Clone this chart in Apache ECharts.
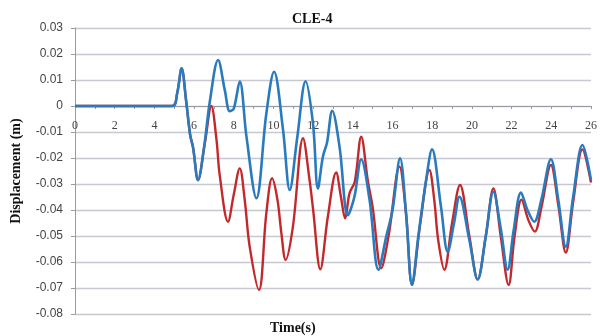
<!DOCTYPE html>
<html>
<head>
<meta charset="utf-8">
<script src="https://cdn.jsdelivr.net/npm/echarts@6/dist/echarts.min.js"></script>
<style>
  html, body { margin: 0; padding: 0; background: #fff; }
  #chart { width: 600px; height: 336px; }
</style>
</head>
<body>
<div id="chart"></div>
<script>
// blue curve
const blueT = [0, 4.9, 5.15, 5.37, 5.6, 5.8, 5.95, 6.2, 6.5, 6.8, 7.21, 7.55, 7.8, 8.0, 8.3, 8.64, 9.14, 9.64, 10.03, 10.48, 10.82, 11.2, 11.62, 11.99, 12.24, 12.49, 12.7, 12.96, 13.33, 13.75, 14.08, 14.42, 14.84, 15.29, 15.68, 16.0, 16.38, 16.68, 16.98, 17.3, 17.69, 17.99, 18.44, 18.78, 19.1, 19.37, 19.87, 20.29, 20.7, 21.08, 21.45, 21.8, 22.1, 22.47, 22.8, 23.14, 23.5, 23.98, 24.35, 24.73, 25.1, 25.57, 26.0]
const blueV = [0, 0, 0.005, 0.0145, 0.002, -0.011, -0.016, -0.0285, -0.016, 0.002, 0.0177, 0.006, -0.002, -0.001, 0.0094, -0.0118, -0.0355, -0.003, 0.0132, -0.009, -0.0323, -0.012, 0.0095, -0.0067, -0.0317, -0.0195, -0.014, -0.0018, -0.0157, -0.042, -0.0349, -0.0205, -0.036, -0.063, -0.0503, -0.04, -0.0201, -0.0413, -0.0688, -0.05, -0.0285, -0.0167, -0.0387, -0.056, -0.045, -0.0349, -0.0515, -0.0667, -0.05, -0.033, -0.047, -0.063, -0.048, -0.0333, -0.04, -0.0445, -0.036, -0.0205, -0.036, -0.0541, -0.035, -0.015, -0.0285]

// red curve
const redT = [0, 4.9, 5.15, 5.37, 5.6, 5.8, 5.95, 6.2, 6.55, 6.87, 7.13, 7.29, 7.71, 8.0, 8.3, 8.55, 8.8, 9.27, 9.64, 9.93, 10.2, 10.4, 10.61, 10.98, 11.49, 11.82, 12.0, 12.36, 12.74, 13.16, 13.4, 13.61, 13.83, 14.1, 14.42, 14.75, 15.0, 15.43, 15.8, 16.35, 16.68, 16.98, 17.4, 17.86, 18.1, 18.3, 18.61, 19.0, 19.4, 19.87, 20.29, 20.7, 21.08, 21.45, 21.85, 22.15, 22.5, 22.85, 23.17, 23.5, 23.98, 24.35, 24.73, 25.1, 25.57, 26.0]
const redV = [0, 0, 0.005, 0.0145, 0.002, -0.011, -0.016, -0.0285, -0.014, 0, -0.013, -0.0265, -0.0445, -0.034, -0.024, -0.036, -0.054, -0.0708, -0.0413, -0.0278, -0.036, -0.049, -0.0592, -0.0464, -0.0124, -0.0285, -0.04, -0.0628, -0.0426, -0.0256, -0.035, -0.0432, -0.0336, -0.029, -0.0118, -0.0285, -0.039, -0.0624, -0.05, -0.0233, -0.0413, -0.0688, -0.045, -0.0246, -0.036, -0.0515, -0.063, -0.045, -0.0304, -0.05, -0.0667, -0.05, -0.0317, -0.05, -0.0688, -0.05, -0.036, -0.044, -0.0483, -0.039, -0.0227, -0.038, -0.0564, -0.037, -0.0167, -0.0294]

const chart = echarts.init(document.getElementById('chart'))

const serif = '"Liberation Serif", "DejaVu Serif", serif'

let options = {
  animation: false,
  title: [
    {text: 'CLE-4', left: 287, top: 7, textStyle: {fontFamily: serif, fontWeight: 'bold', fontSize: 14, color: '#111'}},
    {text: 'Time(s)', left: 265, top: 316, textStyle: {fontFamily: serif, fontWeight: 'bold', fontSize: 14, color: '#111'}}
  ],
  grid: {left: 75, right: 8, top: 28, bottom: 22},
  xAxis: {
    type: 'value', min: 0, max: 26, interval: 2,
    // axis drawn on the zero line
    offset: -208,
    axisLine: {onZero: false, lineStyle: {color: '#9a9aa6', width: 1}},
    axisTick: {show: true, length: 3, lineStyle: {color: '#9a9aa6'}},
    minorTick: {show: true, splitNumber: 2, length: 3, lineStyle: {color: '#9a9aa6'}},
    splitLine: {show: false},
    axisLabel: {margin: 14, fontFamily: serif, fontSize: 12, color: '#444'}
  },
  yAxis: {
    type: 'value', min: -0.08, max: 0.03, interval: 0.01,
    name: 'Displacement (m)', nameLocation: 'middle', nameGap: 52,
    nameTextStyle: {fontFamily: serif, fontWeight: 'bold', fontSize: 14, color: '#111'},
    axisLine: {show: true, lineStyle: {color: '#9a9aa6'}},
    axisTick: {show: true, length: 4, lineStyle: {color: '#9a9aa6'}},
    splitLine: {show: true, lineStyle: {color: '#c8c8d2', width: 1.3}},
    axisLabel: {
      fontFamily: '"Liberation Sans", Arial, sans-serif', fontSize: 12, color: '#444', margin: 12,
      formatter: v => Math.abs(v) < 1e-9 ? '0' : v.toFixed(2)
    }
  },
  series: [
    {
      name: 'red', type: 'line', smooth: 0.35, showSymbol: false,
      lineStyle: {color: '#c3282c', width: 2.4},
      data: redT.map((t, i) => [t, redV[i]])
    },
    {
      name: 'blue', type: 'line', smooth: 0.35, showSymbol: false,
      lineStyle: {color: '#2a7bbd', width: 2.6},
      data: blueT.map((t, i) => [t, blueV[i]])
    }
  ]
}
chart.setOption(options)
</script>
</body>
</html>
